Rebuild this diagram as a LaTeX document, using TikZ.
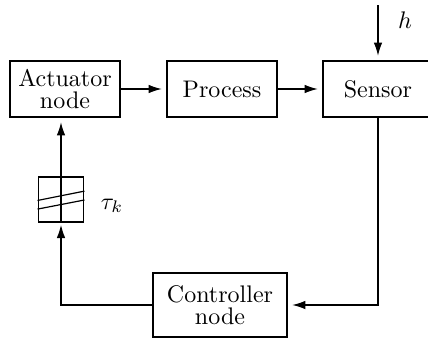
\documentclass[tikz,border=0pt]{standalone}
\usetikzlibrary{arrows.meta}
\begin{document}
\begin{tikzpicture}[x=0.41667pt,y=-0.41667pt,
  blk/.style={draw,line width=0.8pt,inner sep=0pt,align=center,font=\fontsize{10}{9}\selectfont},
  smallblk/.style={blk,minimum width=45.83pt,minimum height=23.33pt},
  conn/.style={line width=0.5pt,-{Latex[length=5.5pt,width=3.6pt]},shorten >=1.8pt}]
\useasboundingbox (0,0) rectangle (428,338);
\node[smallblk] (act) at (65,89) {Actuator\\node};
\node[smallblk] (proc) at (222,89) {Process};
\node[smallblk] (sens) at (378,89) {Sensor};
\node[blk,minimum width=55.83pt,minimum height=26.67pt] (ctrl) at (220,305) {Controller\\node};
\node[draw,line width=0.8pt,minimum size=18.75pt,inner sep=0pt] (del) at (61,199.5) {};
\draw[line width=0.5pt] ([yshift=-0.4pt]del.west) -- ([yshift=3.5pt]del.east);
\draw[line width=0.5pt] ([yshift=-4pt]del.west) -- ([yshift=-0.2pt]del.east);
\coordinate (htop) at (378,5);
\node (h) at (405,20) {$h$};
\node (tau) at (112,206) {$\tau_k$};
\draw[conn] (act) -- (proc);
\draw[conn] (proc) -- (sens);
\draw[conn] (htop) -- (sens.north);
\draw[conn] (sens.south) |- (ctrl.east);
\draw[conn,shorten >=0.8pt] (ctrl.west) -| (del.south);
\draw[line width=0.5pt] (del.south) -- (del.north);
\draw[conn] (del.north) -- (del.north |- act.south);
\end{tikzpicture}
\end{document}
